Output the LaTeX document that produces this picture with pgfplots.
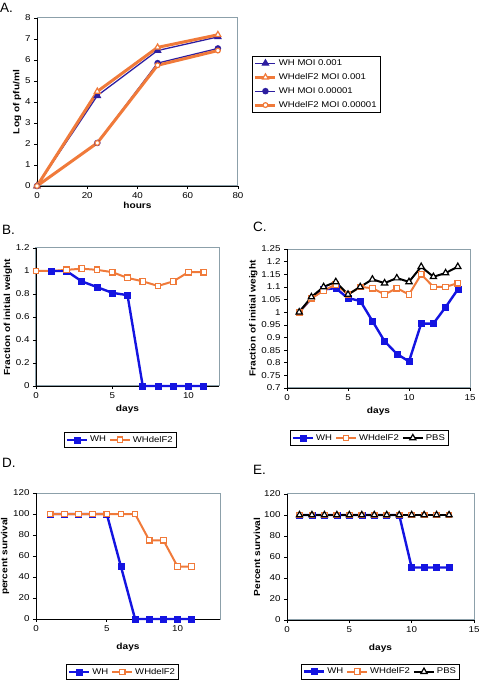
\documentclass[border=0pt]{standalone}
\usepackage{pgfplots}
\pgfplotsset{compat=1.18}
\usepackage{fontspec}
\setmainfont[FakeStretch=1.15]{Liberation Sans}
\newfontfamily\letterfont{Liberation Sans}
\definecolor{whblue}{RGB}{20,20,225}
\definecolor{darkblue}{RGB}{45,30,160}
\definecolor{orng}{RGB}{240,122,58}
\definecolor{framec}{RGB}{140,160,170}
\pgfplotsset{
  panel/.style={
    scale only axis, anchor=south west,
    axis x line*=bottom, axis y line*=left,
    axis line style={-,black,line width=0.8pt},
    axis background/.style={draw=framec,line width=1pt},
    tick align=outside, major tick length=3pt,
    tick style={black,line width=0.6pt},
    ticklabel style={font=\fontsize{8.5}{9}\selectfont},
    label style={font=\fontsize{8.8}{10}\selectfont\bfseries},
    ylabel shift=-3pt,
    /pgf/number format/assume math mode=true,
    /pgf/number format/fixed,
    /pgf/number format/precision=2,
    legend style={font=\fontsize{8.3}{9}\selectfont, draw=black, line width=0.8pt, inner sep=1.5pt, row sep=0pt},
    legend cell align=left,
    legend image code/.code={\draw[mark repeat=2,mark phase=2,##1] plot coordinates {(0pt,0pt) (10pt,0pt) (20pt,0pt)};},
    clip=false,
  },
  hleg/.style={legend columns=-1, legend style={/tikz/every even column/.append style={column sep=1pt}}},
  wh/.style={whblue, line width=2.4pt, mark=square*, mark size=3pt, mark options={solid, fill=whblue, line width=0.6pt}},
  del/.style={orng, line width=2pt, mark=square*, mark size=2.8pt, mark options={solid, fill=white, line width=1.2pt}},
  pbs/.style={black, line width=2pt, mark=triangle*, mark size=3.6pt, mark options={solid, fill=white, line width=1.2pt}},
}
\newcommand{\plab}[1]{{\letterfont\fontsize{13.5}{15}\selectfont #1}}
\begin{document}
\begin{tikzpicture}
\path[use as bounding box] (0pt,0pt) rectangle (480pt,680pt);
% panel letters
\node[anchor=north west, inner sep=0pt] at (0pt,677pt) {\plab{A.}};
\node[anchor=north west, inner sep=0pt] at (2pt,455pt) {\plab{B.}};
\node[anchor=north west, inner sep=0pt] at (253pt,458pt) {\plab{C.}};
\node[anchor=north west, inner sep=0pt] at (2pt,222pt) {\plab{D.}};
\node[anchor=north west, inner sep=0pt] at (253pt,215pt) {\plab{E.}};

% Panel A
\begin{axis}[panel, at={(37pt,494pt)}, width=201pt, height=168pt,
  xmin=0, xmax=80, ymin=0, ymax=8, xtick={0,20,...,80}, ytick={0,1,...,8},
  xlabel={hours}, ylabel={Log of pfu/ml},
  xlabel style={yshift=3pt},
  legend style={at={(1.07,0.775)}, anchor=north west, row sep=2.5pt}]
\addplot[darkblue, line width=1.3pt, mark=triangle*, mark size=3.4pt, mark options={fill=darkblue}] coordinates {(0,0) (24,4.3) (48,6.45) (72,7.1)};
\addlegendentry{WH MOI 0.001}
\addplot[orng, line width=3pt, mark=triangle*, mark size=3.4pt, mark options={fill=white, line width=1.2pt}] coordinates {(0,0) (24,4.5) (48,6.6) (72,7.2)};
\addlegendentry{WHdelF2 MOI 0.001}
\addplot[darkblue, line width=1.3pt, mark=*, mark size=2.6pt, mark options={fill=darkblue}] coordinates {(0,0) (24,2.05) (48,5.85) (72,6.55)};
\addlegendentry{WH MOI 0.00001}
\addplot[orng, line width=3pt, mark=*, mark size=2.4pt, mark options={fill=white, line width=1.2pt}] coordinates {(0,0) (24,2.05) (48,5.75) (72,6.45)};
\addlegendentry{WHdelF2 MOI 0.00001}
\end{axis}

% Panel B
\begin{axis}[panel, hleg, at={(36pt,294pt)}, width=183pt, height=138pt,
  xmin=0, xmax=12, ymin=0, ymax=1.2, xtick={0,5,10}, ytick={0,0.2,...,1.2},
  xlabel={days}, ylabel={Fraction of initial weight},
  legend style={at={(0.46,-0.39)}, anchor=center}]
\addplot[wh] coordinates {(1,1) (2,1) (3,0.91) (4,0.86) (5,0.81) (6,0.79) (7,0) (8,0) (9,0) (10,0) (11,0)};
\addlegendentry{WH}
\addplot[del] coordinates {(0,1) (1,1) (2,1.01) (3,1.02) (4,1.01) (5,0.99) (6,0.94) (7,0.91) (8,0.87) (9,0.91) (10,0.99) (11,0.99)};
\addlegendentry{WHdelF2}
\addplot[wh, forget plot] coordinates {(1,1) (2,1)};
\addplot[del, forget plot, only marks] coordinates {(0,1) (2,1.01)};
\end{axis}

% Panel C
\begin{axis}[panel, hleg, at={(287pt,292pt)}, width=183pt, height=139pt,
  xmin=0, xmax=15, ymin=0.7, ymax=1.25, xtick={0,5,10,15}, ytick={0.7,0.75,...,1.26},
  xlabel={days}, ylabel={Fraction of initial weight},
  legend style={at={(0.45,-0.36)}, anchor=center}]
\addplot[wh] coordinates {(1,1.0) (2,1.055) (3,1.09) (4,1.095) (5,1.055) (6,1.045) (7,0.965) (8,0.885) (9,0.835) (10,0.805) (11,0.955) (12,0.955) (13,1.02) (14,1.09)};
\addlegendentry{WH}
\addplot[del] coordinates {(1,1.0) (2,1.055) (3,1.085) (4,1.11) (5,1.07) (6,1.1) (7,1.095) (8,1.07) (9,1.095) (10,1.07) (11,1.15) (12,1.1) (13,1.1) (14,1.115)};
\addlegendentry{WHdelF2}
\addplot[pbs] coordinates {(1,1.0) (2,1.06) (3,1.1) (4,1.12) (5,1.07) (6,1.1) (7,1.13) (8,1.115) (9,1.135) (10,1.12) (11,1.18) (12,1.14) (13,1.155) (14,1.18)};
\addlegendentry{PBS}
\end{axis}

% Panel D
\begin{axis}[panel, hleg, at={(36pt,61pt)}, width=184pt, height=126pt,
  xmin=0, xmax=13, ymin=0, ymax=120, xtick={0,5,10}, ytick={0,20,...,120},
  xlabel={days}, ylabel={percent survival},
  xlabel style={yshift=-5pt},
  legend style={at={(0.47,-0.42)}, anchor=center}]
\addplot[wh] coordinates {(1,100) (2,100) (3,100) (4,100) (5,100) (6,50) (7,0) (8,0) (9,0) (10,0) (11,0)};
\addlegendentry{WH}
\addplot[del] coordinates {(1,100) (2,100) (3,100) (4,100) (5,100) (6,100) (7,100) (8,75) (9,75) (10,50) (11,50)};
\addlegendentry{WHdelF2}
\end{axis}

% Panel E
\begin{axis}[panel, hleg, at={(287pt,60pt)}, width=187pt, height=126pt,
  xmin=0, xmax=15, ymin=0, ymax=120, xtick={0,5,10,15}, ytick={0,20,...,120},
  xlabel={days}, ylabel={Percent survival},
  xlabel style={yshift=-5pt},
  legend style={at={(0.50,-0.41)}, anchor=center}]
\addplot[wh] coordinates {(1,100) (2,100) (3,100) (4,100) (5,100) (6,100) (7,100) (8,100) (9,100) (10,50) (11,50) (12,50) (13,50)};
\addlegendentry{WH}
\addplot[del] coordinates {(1,100) (2,100) (3,100) (4,100) (5,100) (6,100) (7,100) (8,100) (9,100) (10,100) (11,100) (12,100) (13,100)};
\addlegendentry{WHdelF2}
\addplot[pbs] coordinates {(1,100) (2,100) (3,100) (4,100) (5,100) (6,100) (7,100) (8,100) (9,100) (10,100) (11,100) (12,100) (13,100)};
\addlegendentry{PBS}
\end{axis}
\end{tikzpicture}
\end{document}
